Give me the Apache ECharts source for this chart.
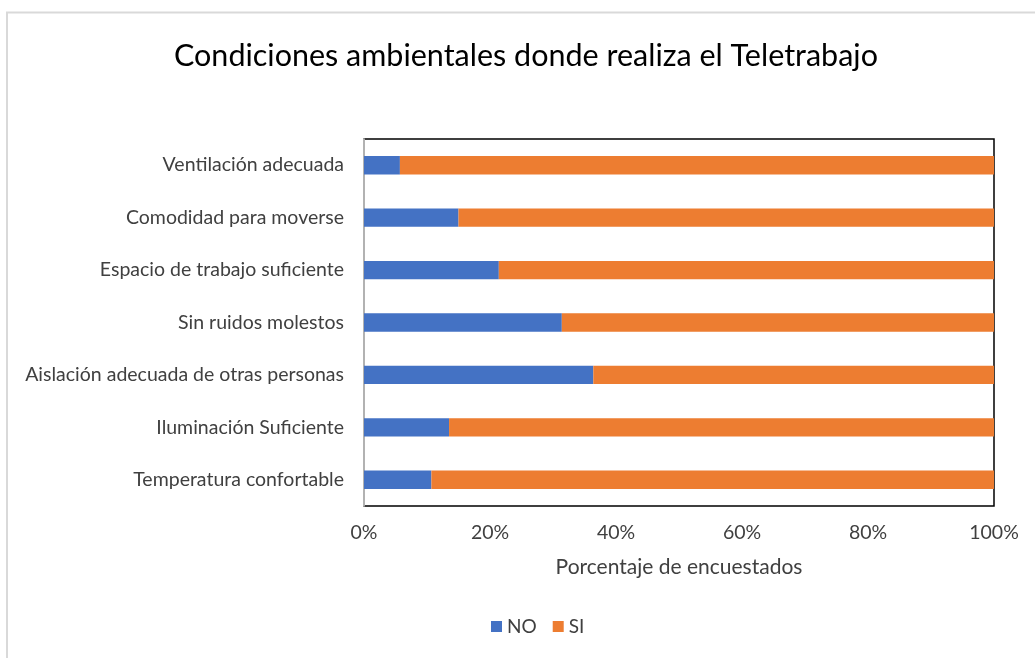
<!DOCTYPE html>
<html>
<head>
<meta charset="utf-8">
<script src="https://cdn.jsdelivr.net/npm/echarts@6/dist/echarts.min.js"></script>
<style>
  html, body { margin: 0; padding: 0; background: #fff; }
  #chart { width: 1035px; height: 658px; }
</style>
</head>
<body>
<div id="chart"></div>
<script>
// Conditions listed from top to bottom
const categories = [
  'Ventilación adecuada',
  'Comodidad para moverse',
  'Espacio de trabajo suficiente',
  'Sin ruidos molestos',
  'Aislación adecuada de otras personas',
  'Iluminación Suficiente',
  'Temperatura confortable'
];
// Share of respondents (%)
const noValues = [5.7, 15.0, 21.4, 31.4, 36.4, 13.5, 10.7];
const siValues = [94.3, 85.0, 78.6, 68.6, 63.6, 86.5, 89.3];
const xTicks = [0, 20, 40, 60, 80, 100];

const FONT = 'Lato, "Open Sans", sans-serif';
const chart = echarts.init(document.getElementById('chart'));
chart.setOption({
  animation: false,
  textStyle: { fontFamily: FONT },
  title: {
    text: 'Condiciones ambientales donde realiza el Teletrabajo',
    left: 169,
    top: 36,
    textStyle: { fontFamily: FONT, fontSize: 30.5, fontWeight: 'normal', color: '#000' }
  },
  graphic: [{
    type: 'rect',
    shape: { x: 7, y: 12.5, width: 1040, height: 660 },
    style: { fill: 'none', stroke: '#d9d9d9', lineWidth: 2 },
    silent: true
  }],
  legend: {
    bottom: 17,
    left: 486,
    itemWidth: 11,
    itemHeight: 11,
    itemGap: 16,
    icon: 'rect',
    textStyle: { fontFamily: FONT, fontSize: 19, color: '#404040' },
    data: ['NO', 'SI']
  },
  grid: {
    left: 364, right: 41, top: 139, bottom: 152,
    show: true, borderColor: '#000', borderWidth: 1.5, backgroundColor: 'transparent'
  },
  xAxis: {
    type: 'value',
    min: xTicks[0],
    max: xTicks[xTicks.length - 1],
    interval: 20,
    name: 'Porcentaje de encuestados',
    nameLocation: 'middle',
    nameGap: 51,
    nameTextStyle: { fontFamily: FONT, fontSize: 21, color: '#404040' },
    axisLabel: { formatter: '{value}%', fontFamily: FONT, fontSize: 19.5, color: '#404040', margin: 17 },
    axisLine: { show: false },
    axisTick: { show: false },
    splitLine: { show: false }
  },
  yAxis: {
    type: 'category',
    inverse: true,
    data: categories,
    axisLabel: { fontFamily: FONT, fontSize: 19.5, color: '#404040', margin: 20 },
    axisLine: { show: true, lineStyle: { color: '#d9d9d9', width: 1.5 } },
    axisTick: { show: false }
  },
  series: [
    {
      name: 'NO', type: 'bar', stack: 'total', data: noValues,
      barWidth: '35%', itemStyle: { color: '#4472C4' }
    },
    {
      name: 'SI', type: 'bar', stack: 'total', data: siValues,
      barWidth: '35%', itemStyle: { color: '#ED7D31' }
    }
  ]
});
</script>
</body>
</html>
